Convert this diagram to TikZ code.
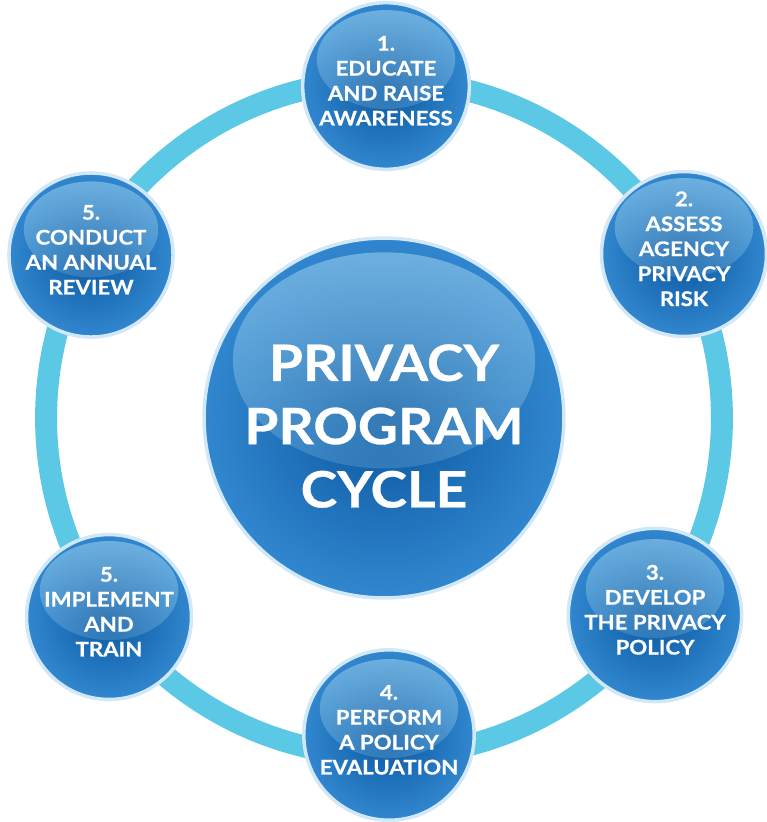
\documentclass[tikz,border=0pt]{standalone}
\usepackage{fontspec}
\setmainfont{Lato}
\newfontfamily\ballfont{Lato}[FakeStretch=1.1, FakeBold=0.6]
\usetikzlibrary{positioning,backgrounds,fadings,calc}
\definecolor{ringblue}{HTML}{5BC8E5}
\definecolor{balldark}{HTML}{0A57A0}
\definecolor{balllight}{HTML}{3187CF}
\definecolor{ballrim}{HTML}{D2E8F6}
\definecolor{ballshine}{HTML}{A6D8F2}

\tikzset{
  bubble/.style={circle, inner sep=0pt, minimum size=#1, draw=ballrim, line width=2pt,
    shading=radial, inner color=balldark, outer color=balllight,
    text=white, align=center,
    path picture={\fill[ballshine, path fading=south, opacity=0.55]
      ([yshift=0.16*#1]path picture bounding box.center) ellipse ({0.42*#1} and {0.3*#1});}},
  bubble/.default=3.3cm,
  small/.style={font=\ballfont\bfseries\fontsize{11.5}{14.2}\selectfont, text depth=6pt},
  big/.style={font=\ballfont\bfseries\fontsize{28.5}{36}\selectfont, text height=102pt},
  ringline/.style={draw=ringblue, line width=12.5pt},
}

\begin{document}
\begin{tikzpicture}[x=0.02cm, y=-0.02cm]
\useasboundingbox (0,0) rectangle (767,822);
% nodes
\node[bubble=7.2cm, big] (cycle) at (384,418) {PRIVACY\\PROGRAM\\CYCLE};
\node[bubble, small] (educate) at (386,86) {1.\\EDUCATE\\AND RAISE\\AWARENESS};
\node[bubble, small] (assess) at (684,254) {2.\\ASSESS\\AGENCY\\PRIVACY\\RISK};
\node[bubble, small] (develop) at (655,615) {3.\\DEVELOP\\THE PRIVACY\\POLICY};
\node[bubble, small] (perform) at (389,735) {4.\\PERFORM\\A POLICY\\EVALUATION};
\node[bubble, small] (implement) at (109,617) {5.\\IMPLEMENT\\AND\\TRAIN};
\node[bubble=3.2cm, small] (review) at (91,255) {5.\\CONDUCT\\AN ANNUAL\\REVIEW};
% ring
\begin{scope}[on background layer]
 \draw[ringline] (cycle.center) circle (6.76cm);
\end{scope}
\end{tikzpicture}
\end{document}
